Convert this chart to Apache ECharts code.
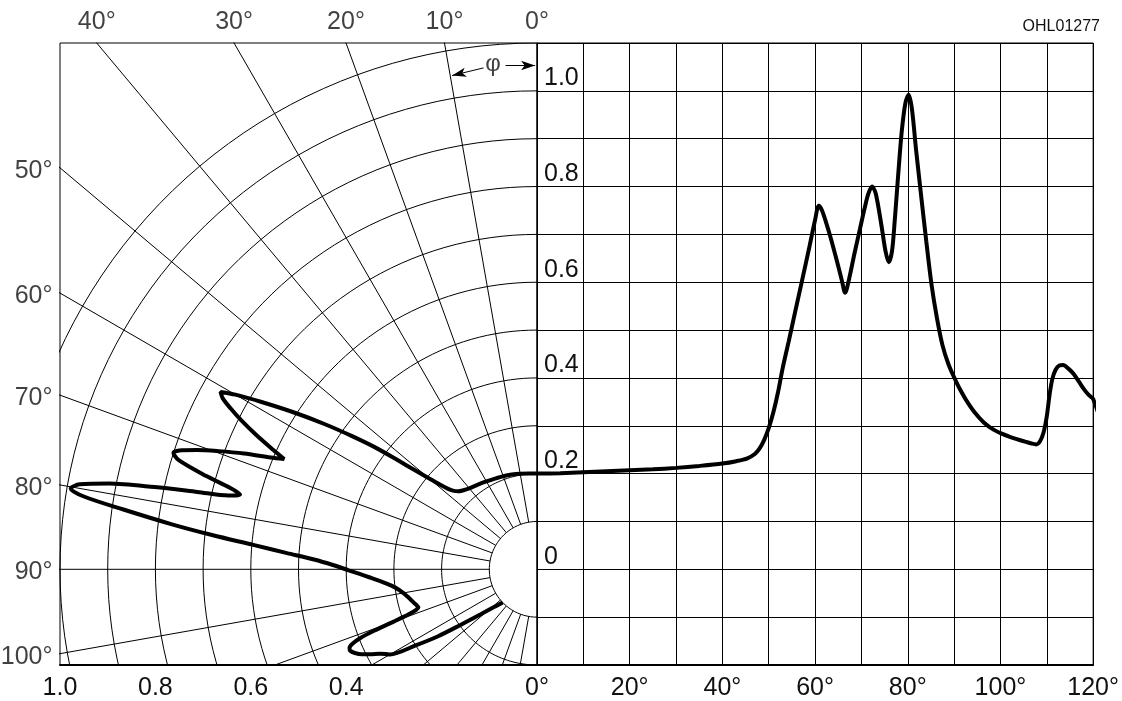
<!DOCTYPE html>
<html>
<head>
<meta charset="utf-8">
<script src="https://cdn.jsdelivr.net/npm/echarts@6/dist/echarts.min.js"></script>
<style>
  html, body { margin: 0; padding: 0; background: #fff; }
  #chart { width: 1122px; height: 701px; }
</style>
</head>
<body>
<div id="chart"></div>
<script>
// radiation characteristic: angle (deg) -> relative intensity
var angleDeg = [0, 5, 10, 15, 20, 25, 30, 35, 40, 43, 45.4, 47, 48, 49, 50, 51, 52, 53, 54.3, 55.7,
  57.2, 58.8, 60, 60.8, 61.5, 62.4, 63.3, 64.5, 65.7, 66.5, 67.3, 68.5, 69.7, 70.7, 71.5, 72.3, 73.1, 74.3, 75.2, 75.9,
  76.6, 77.2, 77.9, 78.7, 79.5, 80.2, 80.9, 81.8, 83, 84, 85.1, 86.3, 87.5, 88.8, 90.3, 91.5, 92.7, 94.5, 96.4, 98.5,
  100.4, 102, 103.5, 105.3, 106.7, 107.7, 108.5, 109.3, 110, 110.6, 111.2, 111.9, 112.7, 113.5, 114.6, 115.8, 117, 118.2, 119.2, 120,
  122, 124, 126, 128.5, 131, 134];
var intensity = [0.200, 0.201, 0.203, 0.205, 0.207, 0.209, 0.212, 0.216, 0.221, 0.226, 0.232, 0.241, 0.252, 0.270, 0.295, 0.328, 0.370, 0.420, 0.476, 0.538,
  0.604, 0.675, 0.730, 0.760, 0.750, 0.724, 0.695, 0.652, 0.607, 0.578, 0.605, 0.660, 0.712, 0.755, 0.785, 0.800, 0.785, 0.720, 0.665, 0.642,
  0.665, 0.730, 0.820, 0.915, 0.975, 0.992, 0.962, 0.876, 0.771, 0.685, 0.597, 0.525, 0.468, 0.428, 0.395, 0.372, 0.352, 0.327, 0.307, 0.292,
  0.283, 0.277, 0.272, 0.267, 0.263, 0.261, 0.267, 0.286, 0.320, 0.365, 0.398, 0.417, 0.426, 0.427, 0.420, 0.408, 0.391, 0.374, 0.363, 0.356,
  0.300, 0.250, 0.197, 0.152, 0.122, 0.100];

var ringValues = [0.1, 0.2, 0.3, 0.4, 0.5, 0.6, 0.7, 0.8, 0.9, 1.0, 1.1];
var rayAngles = [10, 20, 30, 40, 50, 60, 70, 80, 90, 100, 110, 120, 130, 140, 150, 160, 170];
var topAngleLabels = [0, 10, 20, 30, 40];
var sideAngleLabels = [50, 60, 70, 80, 90, 100];
var radialLabels = [1.0, 0.8, 0.6, 0.4];
var yLabels = [0, 0.2, 0.4, 0.6, 0.8, 1.0];

var FONT = "'Liberation Sans Narrow', 'Liberation Sans', Arial, sans-serif";
var rad = Math.PI / 180;

// angle 0 points up, angles grow to the left
function polarXY(a, r) {
  return [-r * Math.sin(a * rad), r * Math.cos(a * rad)];
}

var series = [];

// concentric rings
ringValues.forEach(function (r) {
  var pts = [];
  for (var a = 0; a <= 180; a += 2) pts.push(polarXY(a, r));
  series.push({
    type: 'line', xAxisIndex: 0, yAxisIndex: 0, data: pts, showSymbol: false, silent: true,
    clip: true, lineStyle: { color: '#000', width: 1 }
  });
});

// angle rays, from the inner circle outwards
rayAngles.forEach(function (a) {
  series.push({
    type: 'line', xAxisIndex: 0, yAxisIndex: 0, data: [polarXY(a, 0.1), polarXY(a, 1.6)],
    showSymbol: false, silent: true, clip: true, lineStyle: { color: '#000', width: 1 }
  });
});

// polar curve
series.push({
  type: 'line', xAxisIndex: 0, yAxisIndex: 0, smooth: 0.3, showSymbol: false, clip: true,
  data: angleDeg.map(function (a, i) { return polarXY(a, intensity[i]); }),
  lineStyle: { color: '#000', width: 4 }, z: 5
});

// angle labels at the border of the polar panel
series.push({
  type: 'scatter', xAxisIndex: 0, yAxisIndex: 0, symbolSize: 1, clip: false, silent: true,
  itemStyle: { color: 'rgba(0,0,0,0)' },
  data: topAngleLabels.map(function (a) { return { value: [-1.1 * Math.tan(a * rad), 1.1], name: a + '°' }; }),
  label: { show: true, position: 'top', distance: 8, formatter: '{b}', color: '#111', fontSize: 25, fontFamily: FONT }
});
series.push({
  type: 'scatter', xAxisIndex: 0, yAxisIndex: 0, symbolSize: 1, clip: false, silent: true,
  itemStyle: { color: 'rgba(0,0,0,0)' },
  data: sideAngleLabels.map(function (a) { return { value: [-1.0, Math.cos(a * rad) / Math.sin(a * rad)], name: a + '°' }; }),
  label: { show: true, position: 'left', distance: 7, offset: [0, 3], formatter: '{b}', color: '#111', fontSize: 25, fontFamily: FONT }
});

// phi annotation with arrows
series.push({
  type: 'scatter', xAxisIndex: 0, yAxisIndex: 0, symbolSize: 1, clip: false, silent: true,
  itemStyle: { color: 'rgba(0,0,0,0)' },
  data: [{ value: [-0.092, 1.055], name: 'φ' }],
  label: { show: true, position: 'inside', formatter: '{b}', color: '#111', fontSize: 24, fontFamily: FONT },
  markLine: {
    silent: true, symbol: ['none', 'arrow'], symbolSize: [7, 14],
    lineStyle: { color: '#000', width: 1, type: 'solid' }, label: { show: false },
    data: [
      [{ coord: [-0.112, 1.048] }, { coord: [-0.178, 1.032] }],
      [{ coord: [-0.066, 1.053] }, { coord: [-0.004, 1.053] }]
    ]
  }
});

// cartesian curve
series.push({
  type: 'line', xAxisIndex: 1, yAxisIndex: 1, smooth: 0.3, showSymbol: false, clip: true,
  data: angleDeg.map(function (a, i) { return [a, intensity[i]]; }),
  lineStyle: { color: '#000', width: 4 }, z: 5
});

var chart = echarts.init(document.getElementById('chart'));
chart.setOption({
  animation: false,
  backgroundColor: '#fff',
  title: {
    text: 'OHL01277', right: 22, top: 19, padding: 0,
    textStyle: { fontSize: 16, fontWeight: 'normal', color: '#111', fontFamily: FONT }
  },
  grid: [
    { left: 60, top: 43, width: 477, height: 622, show: true, borderColor: '#000', borderWidth: 1 },
    { left: 537, top: 43, width: 561, height: 622, show: true, borderColor: '#000', borderWidth: 1 }
  ],
  xAxis: [
    {
      type: 'value', gridIndex: 0, min: -1, max: 0, interval: 0.2,
      axisLine: { show: true, onZero: false, lineStyle: { color: '#000', width: 2 } },
      axisTick: { show: false }, splitLine: { show: false },
      axisLabel: {
        margin: 11, color: '#111', fontSize: 25, fontFamily: FONT,
        formatter: function (v) {
          var a = Math.round(-v * 10) / 10;
          return radialLabels.indexOf(a) >= 0 ? a.toFixed(1) : '';
        }
      }
    },
    {
      type: 'value', gridIndex: 1, min: 0, max: 120, interval: 10,
      axisLine: { show: true, onZero: false, lineStyle: { color: '#000', width: 2 } },
      axisTick: { show: false },
      splitLine: { show: true, lineStyle: { color: '#000', width: 1 } },
      axisLabel: {
        margin: 11, color: '#111', fontSize: 25, fontFamily: FONT,
        formatter: function (v) { return v % 20 === 0 ? v + '°' : ''; }
      }
    }
  ],
  yAxis: [
    {
      type: 'value', gridIndex: 0, min: -0.2, max: 1.1, interval: 0.1,
      axisLine: { show: false }, axisTick: { show: false }, axisLabel: { show: false }, splitLine: { show: false }
    },
    {
      type: 'value', gridIndex: 1, min: -0.2, max: 1.1, interval: 0.1,
      axisLine: { show: true, onZero: false, lineStyle: { color: '#000', width: 1 } },
      axisTick: { show: false },
      splitLine: { show: true, lineStyle: { color: '#000', width: 1 } },
      axisLabel: {
        inside: true, margin: 7, verticalAlign: 'bottom', color: '#111', fontSize: 25, fontFamily: FONT,
        formatter: function (v) {
          var n = Math.round(v * 10) / 10;
          if (yLabels.indexOf(n) < 0) return '';
          return n === 0 ? '0' : n.toFixed(1);
        }
      }
    }
  ],
  series: series
});
</script>
</body>
</html>
